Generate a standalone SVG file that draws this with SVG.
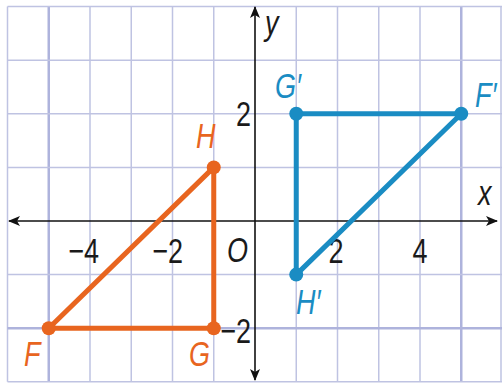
<svg xmlns="http://www.w3.org/2000/svg" width="502" height="387" viewBox="0 0 502 387">
<style>
.grid{stroke:#bfc3e2;stroke-width:1.5;fill:none}
.gridb{stroke:#aeb3dc;stroke-width:2.5;fill:none}
.axis{stroke:#111;stroke-width:1.6;fill:none}
.num{font-family:"Liberation Sans",Arial,sans-serif;font-size:27px;fill:#1a1a1a}
.lbl{font-family:"Liberation Sans",Arial,sans-serif;font-size:27px;font-style:italic}
.or{fill:#e8651f}
.bl{fill:#1a8cc3}
.triO{stroke:#e8651f;stroke-width:5;fill:none;stroke-linejoin:round}
.triB{stroke:#1a8cc3;stroke-width:5;fill:none;stroke-linejoin:round}
</style>
<defs>
<marker id="ah" viewBox="0 0 12 10" refX="11" refY="5" markerWidth="12" markerHeight="10" markerUnits="userSpaceOnUse" orient="auto-start-reverse">
<path d="M0,0 L12,5 L0,10 L3,5 Z" fill="#111"/>
</marker>
</defs>
<rect width="502" height="387" fill="#ffffff"/>
<g id="grid">
<path class="grid" d="M7.5,6.6V381.8 M90,6.6V381.8 M131.25,6.6V381.8 M172.5,6.6V381.8 M213.75,6.6V381.8 M296.25,6.6V381.8 M337.5,6.6V381.8 M378.75,6.6V381.8 M420,6.6V381.8 M501,6.6V381.8"/>
<path class="gridb" d="M48.75,6.6V381.8 M461.25,6.6V381.8"/>
<path class="grid" d="M7.5,6.6H502 M7.5,60.2H502 M7.5,113.8H502 M7.5,167.4H502 M7.5,274.6H502 M7.5,381.8H502"/>
<path class="gridb" d="M7.5,328.2H502"/>
</g>
<g id="axes">
<line class="axis" x1="255" y1="380" x2="255" y2="7" marker-start="url(#ah)" marker-end="url(#ah)"/>
<line class="axis" x1="9" y1="221" x2="497" y2="221" marker-start="url(#ah)" marker-end="url(#ah)"/>
<text class="lbl" fill="#1a1a1a" transform="translate(265,35) scale(1,1.3)">y</text>
<text class="lbl" fill="#1a1a1a" transform="translate(478,205) scale(1,1.3)">x</text>
<text class="num" text-anchor="end" transform="translate(251,126) scale(1,1.3)">2</text>
<text class="num" text-anchor="end" transform="translate(251,343) scale(1,1.3)">−2</text>
<text class="num" text-anchor="end" transform="translate(99,263) scale(1,1.3)">−4</text>
<text class="num" text-anchor="end" transform="translate(183,263) scale(1,1.3)">−2</text>
<text class="lbl" fill="#1a1a1a" transform="translate(227,262) scale(1,1.3)">O</text>
<text class="num" text-anchor="middle" transform="translate(336,263) scale(1,1.3)">2</text>
<text class="num" text-anchor="middle" transform="translate(420,263) scale(1,1.3)">4</text>
</g>
<g id="connectors">
<polygon class="triO" points="48.75,328.2 213.75,328.2 213.75,167.4"/>
<polygon class="triB" points="296.25,113.8 461.25,113.8 296.25,274.6"/>
</g>
<g id="F"><circle class="or" cx="48.75" cy="328.2" r="7"/><text class="lbl or" transform="translate(24,366) scale(1,1.3)">F</text></g>
<g id="G"><circle class="or" cx="213.75" cy="328.2" r="7"/><text class="lbl or" transform="translate(189,366) scale(1,1.3)">G</text></g>
<g id="H"><circle class="or" cx="213.75" cy="167.4" r="7"/><text class="lbl or" transform="translate(196,148) scale(1,1.3)">H</text></g>
<g id="Gp"><circle class="bl" cx="296.25" cy="113.8" r="7"/><text class="lbl bl" transform="translate(275,98) scale(1,1.3)">G′</text></g>
<g id="Fp"><circle class="bl" cx="461.25" cy="113.8" r="7"/><text class="lbl bl" transform="translate(475,107) scale(1,1.3)">F′</text></g>
<g id="Hp"><circle class="bl" cx="296.25" cy="274.6" r="7"/><text class="lbl bl" transform="translate(296,314) scale(1,1.3)">H′</text></g>
</svg>
